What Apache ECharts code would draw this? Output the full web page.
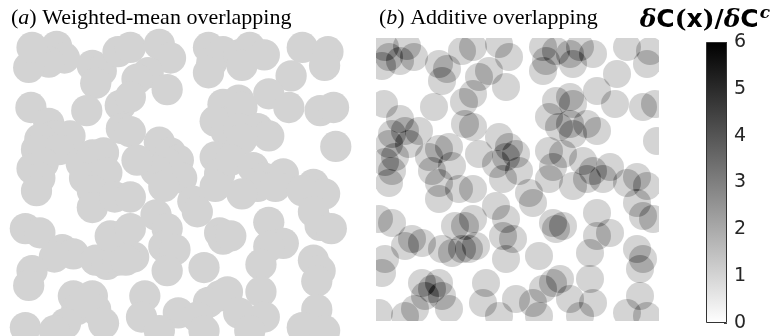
<!DOCTYPE html>
<html>
<head>
<meta charset="utf-8">
<script src="https://cdn.jsdelivr.net/npm/echarts@6/dist/echarts.min.js"></script>
<style>
  html, body { margin: 0; padding: 0; background: #fff; }
  #main { position: absolute; left: 0; top: 0; width: 777px; height: 336px; }
  /* additive panel: drawn light-on-black with 'lighter', then inverted */
  #additive { position: absolute; left: 376px; top: 38px; width: 283px; height: 283px; filter: invert(1); }
</style>
</head>
<body>
<div id="main"></div>
<div id="additive"></div>
<script>
// circle centres, same for both panels (panel units, y measured from the top)
const circleX = [
  31, 38, 24, 13, 6, 9, 63, 71, 66, 86, 58, 8, 88, 24, 29, 16, 43, 13, 33, 19, 9, 16, 53, 63, 73, 56, 76, 89,
  97, 123, 133, 113, 103, 97, 130, 167, 170, 180, 167, 180, 173, 183, 97, 123, 133, 140, 130, 120, 103, 143, 173, 177,
  194, 204, 197, 217, 251, 274, 271, 241, 221, 239, 194, 197, 267, 279, 194, 211, 221, 197, 281, 187, 207, 217, 234, 261,
  13, 63, 63, 83, 3, 16, 36, 46, 29, 66, 76, 86, 89, 79, 9, 6, 46, 63, 49, 66, 56, 39, 73, 3, 29,
  97, 127, 153, 157, 173, 120, 130, 97, 177, 180, 127, 137, 100, 93, 130, 163, 110, 177, 167, 107, 140, 157, 163, 123,
  211, 227, 197, 251, 271, 221, 261, 267, 277, 187, 234, 221, 214, 261, 267, 264, 184, 214, 194, 217, 264, 204, 251, 271
];
const circleY = [
  8, 19, 23, 19, 28, 9, 26, 31, 43, 13, 69, 66, 64, 81, 93, 96, 93, 106, 106, 119, 124, 133, 119, 111, 109, 133, 128, 86,
  9, 6, 19, 33, 39, 56, 49, 9, 23, 13, 33, 63, 79, 89, 89, 99, 109, 116, 119, 126, 116, 133, 113, 129,
  16, 9, 26, 16, 9, 13, 26, 36, 53, 66, 59, 66, 69, 66, 86, 86, 93, 96, 103, 116, 123, 133, 129, 139,
  145, 145, 161, 151, 181, 185, 201, 205, 208, 211, 215, 211, 188, 188, 221, 235, 245, 245, 258, 258, 251, 271, 271, 275, 278,
  151, 141, 155, 165, 141, 168, 181, 181, 185, 191, 198, 201, 208, 211, 221, 218, 245, 245, 251, 265, 261, 265, 278, 278,
  141, 141, 148, 145, 148, 175, 165, 178, 181, 188, 195, 198, 215, 211, 221, 231, 241, 241, 261, 265, 258, 278, 275, 278
];
const panelSize = 283;
const colorbarTicks = [0, 1, 2, 3, 4, 5, 6];
const colorbarMax = 6;

const circles = circleX.map((x, i) => [x, circleY[i]]);

function panelAxes(gridIndex) {
  return {
    xAxis: { gridIndex: gridIndex, type: 'value', min: 0, max: panelSize, show: false },
    yAxis: { gridIndex: gridIndex, type: 'value', min: 0, max: panelSize, inverse: true, show: false }
  };
}

const serif = 'Liberation Serif';
const titleRich = {
  i: { fontFamily: serif, fontStyle: 'italic', fontSize: 22, color: '#000' }
};

// panel (a) is drawn larger than panel (b) and runs off the bottom of the picture
const panelASize = 316;

// main chart: titles, weighted-mean panel, colourbar
const mainChart = echarts.init(document.getElementById('main'), null, { renderer: 'canvas' });
const pa = panelAxes(0);
const mainOption = {
  animation: false,
  backgroundColor: '#fff',
  title: [
    {
      text: '({i|a}) Weighted-mean overlapping',
      left: 6, top: 2,
      textStyle: { fontFamily: serif, fontSize: 22, fontWeight: 'normal', color: '#000', rich: titleRich }
    },
    {
      text: '({i|b}) Additive overlapping',
      left: 374, top: 2,
      textStyle: { fontFamily: serif, fontSize: 22, fontWeight: 'normal', color: '#000', rich: titleRich }
    },
    {
      text: '{d|δ}{b|C}{n|(}{b|x}{n|)/}{d|δ}{b|C}{s|c}',
      right: 2, top: 0,
      textStyle: {
        rich: {
          d: { fontFamily: 'DejaVu Serif', fontStyle: 'italic', fontSize: 25, color: '#000' },
          b: { fontFamily: 'DejaVu Sans', fontWeight: 'bold', fontSize: 25, color: '#000' },
          n: { fontFamily: 'DejaVu Serif', fontSize: 25, color: '#000' },
          s: { fontFamily: 'DejaVu Serif', fontStyle: 'italic', fontSize: 17, color: '#000', padding: [0, 0, 13, 1] }
        }
      }
    }
  ],
  grid: [
    { left: 22, top: 38, width: panelASize, height: panelASize },
    { left: 706, top: 42, width: 21, height: 281 }
  ],
  xAxis: [
    pa.xAxis,
    { gridIndex: 1, type: 'category', data: ['c'], show: false }
  ],
  yAxis: [
    pa.yAxis,
    {
      gridIndex: 1, type: 'value', min: 0, max: colorbarMax, interval: 1, position: 'right',
      axisLine: { show: false },
      axisTick: { show: true, inside: true, length: 3, lineStyle: { color: '#444' } },
      splitLine: { show: false },
      axisLabel: {
        margin: 7, fontSize: 19, fontFamily: 'DejaVu Sans', color: '#262626',
        formatter: v => colorbarTicks.indexOf(v) >= 0 ? String(v) : ''
      }
    }
  ],
  series: [
    {
      type: 'scatter', xAxisIndex: 0, yAxisIndex: 0,
      data: circles, symbolSize: 28 * panelASize / panelSize, clip: true,
      itemStyle: { color: '#d3d3d3', opacity: 1 },
      silent: true
    },
    {
      type: 'bar', xAxisIndex: 1, yAxisIndex: 1,
      data: [colorbarMax], barWidth: '100%',
      itemStyle: {
        color: new echarts.graphic.LinearGradient(0, 0, 0, 1, [
          { offset: 0, color: '#000' },
          { offset: 1, color: '#fff' }
        ]),
        borderColor: '#333', borderWidth: 1
      },
      silent: true
    }
  ]
};
mainChart.setOption(mainOption);

// additive panel: each circle adds 1/6 of full scale, so n circles give n/6 darkness
const addChart = echarts.init(document.getElementById('additive'), null, { renderer: 'canvas' });
const pb = panelAxes(0);
addChart.setOption({
  animation: false,
  backgroundColor: '#000',
  grid: { left: 0, top: 0, right: 0, bottom: 0 },
  xAxis: pb.xAxis,
  yAxis: pb.yAxis,
  series: [
    {
      type: 'scatter',
      data: circles, symbolSize: 28, clip: true,
      blendMode: 'lighter',
      itemStyle: { color: 'rgb(43,43,43)', opacity: 1 },
      silent: true
    }
  ]
});
</script>
</body>
</html>
